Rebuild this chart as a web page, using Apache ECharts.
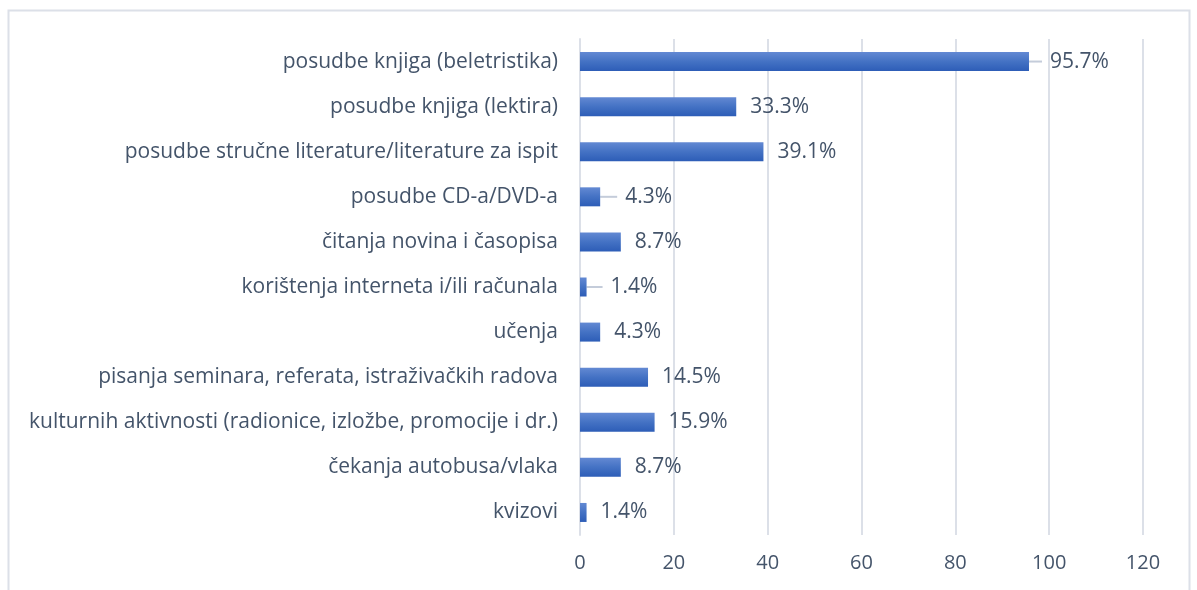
<!DOCTYPE html>
<html>
<head>
<meta charset="utf-8">
<script src="https://cdn.jsdelivr.net/npm/echarts@6/dist/echarts.min.js"></script>
<style>
  html, body { margin: 0; padding: 0; background: #fff; }
  #chart { width: 1197px; height: 590px; }
</style>
</head>
<body>
<div id="chart"></div>
<script>
  var categories = [
    'posudbe knjiga (beletristika)',
    'posudbe knjiga (lektira)',
    'posudbe stručne literature/literature za ispit',
    'posudbe CD-a/DVD-a',
    'čitanja novina i časopisa',
    'korištenja interneta i/ili računala',
    'učenja',
    'pisanja seminara, referata, istraživačkih radova',
    'kulturnih aktivnosti (radionice, izložbe, promocije i dr.)',
    'čekanja autobusa/vlaka',
    'kvizovi'
  ]
  var values = [95.7, 33.3, 39.1, 4.3, 8.7, 1.4, 4.3, 14.5, 15.9, 8.7, 1.4]
  // labels that Excel pushed out with a leader line
  var movedLabels = [0, 3, 5]

  var textColor = '#44546A'
  var gridColor = '#DCE0E8'

  var barData = values.map(function (v, i) {
    var moved = movedLabels.indexOf(i) >= 0
    var item = { value: v, labelLine: { show: moved } }
    if (moved) {
      // transparent box so the leader line stops short of the text
      item.label = { padding: [0, 0, 0, 8], backgroundColor: 'rgba(255,255,255,0)' }
    }
    return item
  })

  var chart = echarts.init(document.getElementById('chart'))
  var option = {
    animation: false,
    textStyle: { fontFamily: 'Open Sans' },
    graphic: [
      {
        type: 'rect',
        shape: { x: 8.5, y: 10.5, width: 1181, height: 600 },
        style: { fill: 'none', stroke: gridColor, lineWidth: 2 },
        silent: true
      }
    ],
    grid: { left: 580, right: 54, top: 39, bottom: 55 },
    xAxis: {
      type: 'value',
      min: 0,
      max: 120,
      interval: 20,
      axisLine: { show: false },
      axisTick: { show: false },
      axisLabel: { color: textColor, fontSize: 20, margin: 18 },
      splitLine: { lineStyle: { color: gridColor, width: 2 } }
    },
    yAxis: {
      type: 'category',
      data: categories,
      inverse: true,
      axisLine: { show: true, lineStyle: { color: gridColor, width: 2 } },
      axisTick: { show: false },
      axisLabel: { color: textColor, fontSize: 21, margin: 22 }
    },
    series: [
      {
        type: 'bar',
        data: barData,
        barWidth: 19,
        itemStyle: {
          color: new echarts.graphic.LinearGradient(0, 0, 0, 1, [
            { offset: 0, color: '#6389D3' },
            { offset: 0.5, color: '#4472C4' },
            { offset: 1, color: '#2D5DB7' }
          ])
        },
        label: {
          show: true,
          position: 'right',
          distance: 14,
          color: textColor,
          fontSize: 21,
          formatter: function (p) { return p.value.toFixed(1) + '%' }
        },
        labelLine: {
          lineStyle: { color: '#C4CCDA', width: 2 }
        },
        labelLayout: function (params) {
          var shift = { 0: -1, 3: 3, 5: 2 }
          if (shift[params.dataIndex] !== undefined) {
            return { dx: shift[params.dataIndex] }
          }
          return {}
        }
      }
    ]
  }
  chart.setOption(option)
</script>
</body>
</html>
